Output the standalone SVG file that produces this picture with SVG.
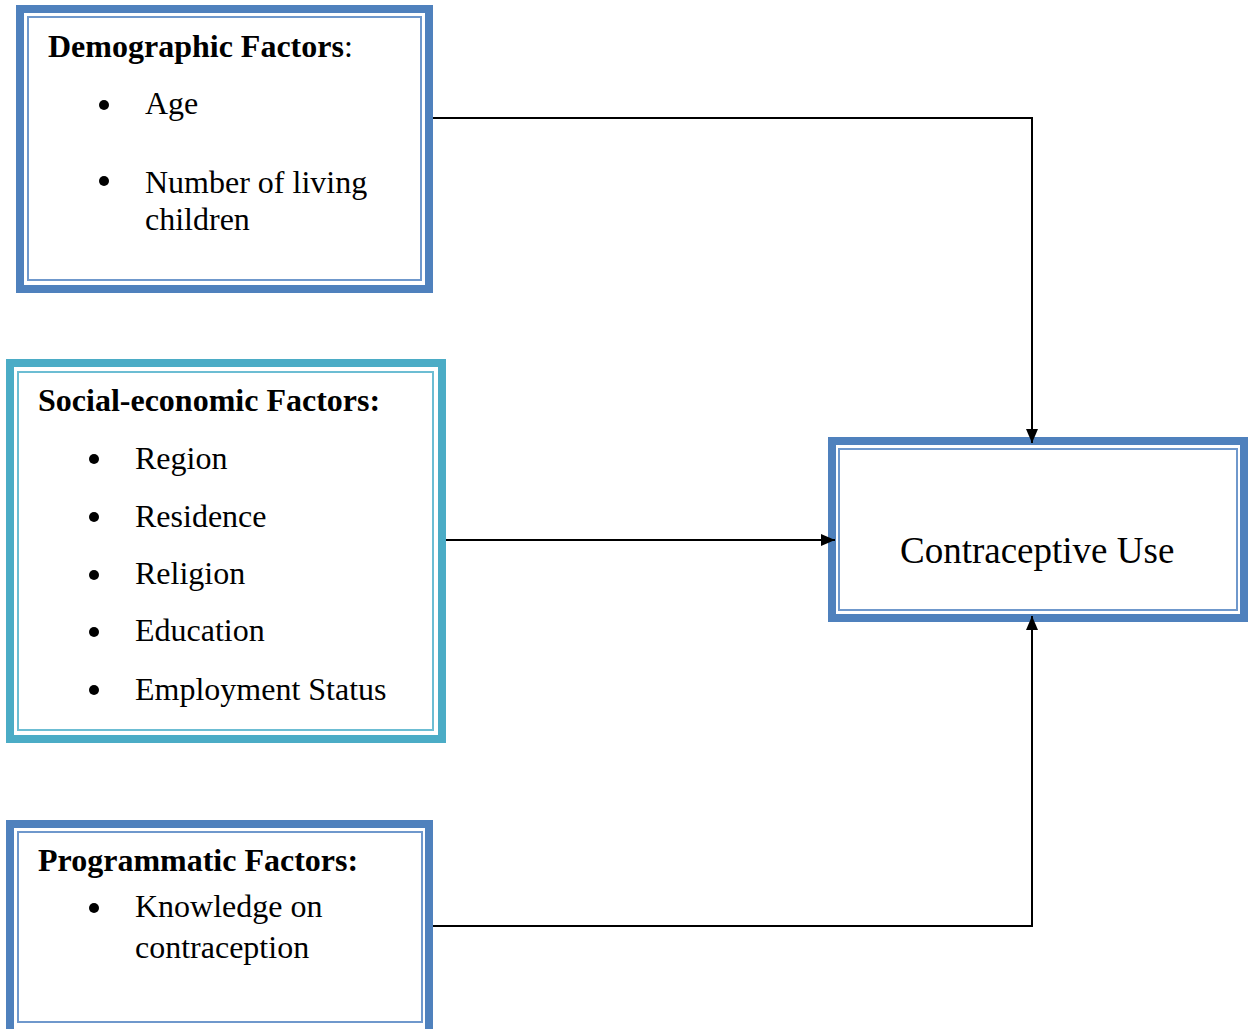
<svg xmlns="http://www.w3.org/2000/svg" width="1251" height="1029" viewBox="0 0 1251 1029">
<style>
.t{font-family:"Liberation Serif","Times New Roman",serif;font-size:32px;fill:#000}
.h{font-weight:bold}
.ob{fill:none;stroke:#4f81bd;stroke-width:8}
.ib{fill:none;stroke:#6f98cc;stroke-width:2}
.ot{fill:none;stroke:#4bacc6;stroke-width:8}
.it{fill:none;stroke:#6cbdd3;stroke-width:2}
.c{fill:none;stroke:#000;stroke-width:2}
</style>
<defs>
<marker id="arr" viewBox="0 0 14 12" refX="14" refY="6" markerWidth="14" markerHeight="12" markerUnits="userSpaceOnUse" orient="auto">
<path d="M0,0 L14,6 L0,12 Z" fill="#000"/>
</marker>
</defs>
<rect width="1251" height="1029" fill="#fff"/>
<g id="demographic">
<rect class="ob" x="20" y="9" width="409" height="280"/>
<rect class="ib" x="28" y="17" width="393" height="263"/>
<text class="t" x="48" y="57"><tspan class="h">Demographic Factors</tspan>:</text>
<circle cx="104" cy="105" r="5"/>
<text class="t" x="145" y="114">Age</text>
<circle cx="104" cy="181" r="5"/>
<text class="t" x="145" y="193">Number of living</text>
<text class="t" x="145" y="230">children</text>
</g>
<g id="socioeconomic">
<rect class="ot" x="10" y="363" width="432" height="376"/>
<rect class="it" x="18" y="372" width="415" height="358"/>
<text class="t h" x="38" y="411">Social-economic Factors:</text>
<circle cx="94" cy="459" r="5"/>
<text class="t" x="135" y="469">Region</text>
<circle cx="94" cy="517" r="5"/>
<text class="t" x="135" y="527">Residence</text>
<circle cx="94" cy="575" r="5"/>
<text class="t" x="135" y="584">Religion</text>
<circle cx="94" cy="632" r="5"/>
<text class="t" x="135" y="641">Education</text>
<circle cx="94" cy="690" r="5"/>
<text class="t" x="135" y="700">Employment Status</text>
</g>
<g id="programmatic">
<rect class="ob" x="10" y="824" width="419" height="210"/>
<rect class="ib" x="18" y="832" width="404" height="190"/>
<text class="t h" x="38" y="871">Programmatic Factors:</text>
<circle cx="94" cy="908" r="5"/>
<text class="t" x="135" y="917">Knowledge on</text>
<text class="t" x="135" y="958">contraception</text>
</g>
<g id="outcome">
<rect class="ob" x="832" y="441" width="412" height="177"/>
<rect class="ib" x="839" y="449" width="398" height="161"/>
<text class="t" x="900" y="563" style="font-size:37px">Contraceptive Use</text>
</g>
<g id="connectors">
<path class="c" d="M433,118 H1032 V443" marker-end="url(#arr)"/>
<path class="c" d="M446,540 H835" marker-end="url(#arr)"/>
<path class="c" d="M433,926 H1032 V616" marker-end="url(#arr)"/>
</g>
</svg>
